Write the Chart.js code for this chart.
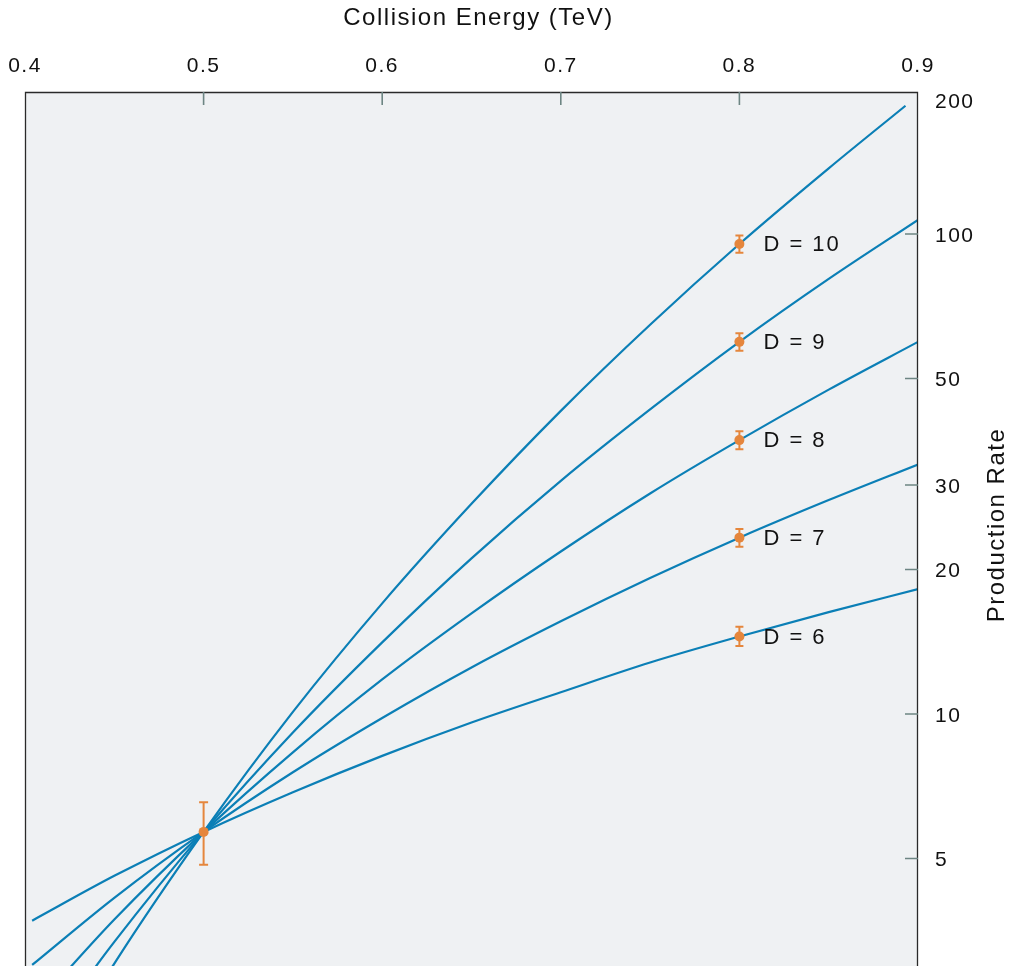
<!DOCTYPE html>
<html>
<head>
<meta charset="utf-8">
<script src="https://cdn.jsdelivr.net/npm/chart.js@4.4.1/dist/chart.umd.min.js"></script>
<style>
  html, body { margin: 0; padding: 0; background: #fff; }
  canvas { display: block; }
</style>
</head>
<body>
<canvas id="chart" width="1013" height="966"></canvas>
<script>
// Collision energy samples (TeV)
const energy    = [0.404, 0.45, 0.5, 0.55, 0.6, 0.65, 0.7, 0.75, 0.8, 0.85, 0.9];
const energyD10 = [0.404, 0.45, 0.5, 0.55, 0.6, 0.65, 0.7, 0.75, 0.8, 0.85, 0.893];

// Production rate per curve
const rateD6  = [3.71, 4.60, 5.68, 6.87, 8.18, 9.60, 11.1, 12.8, 14.5, 16.3, 18.2];
const rateD7  = [3.00, 4.14, 5.68, 7.56, 9.81, 12.5, 15.6, 19.2, 23.3, 27.9, 33.1];
const rateD8  = [2.42, 3.73, 5.68, 8.32, 11.8, 16.2, 21.8, 28.8, 37.2, 47.4, 59.6];
const rateD9  = [1.96, 3.35, 5.68, 9.15, 14.1, 21.1, 30.6, 43.1, 59.6, 80.6, 107];
const rateD10 = [1.58, 3.02, 5.68, 10.1, 17.0, 27.4, 42.8, 64.7, 95.3, 137, 185];

// Measured points with error bars
const pointEnergy = [0.5, 0.8, 0.8, 0.8, 0.8, 0.8];
const pointRate   = [5.68, 95.3, 59.6, 37.2, 23.3, 14.5];
const pointLow    = [4.85, 91.4, 57.1, 35.6, 22.3, 13.85];
const pointHigh   = [6.55, 99.3, 62.1, 38.8, 24.3, 15.2];
const pointLabel  = ['', 'D = 10', 'D = 9', 'D = 8', 'D = 7', 'D = 6'];

// Axis ticks
const yTickValues = [5, 10, 20, 30, 50, 100, 200];

const FONT = '"Liberation Sans", Arial, Helvetica, sans-serif';
const C = { line:'#0b7fb6', point:'#e5863c', tick:'#6d8583', frame:'#2a2a2a', bg:'#eff1f3', text:'#111' };

const xy = (xs, ys) => xs.map((x, i) => ({ x, y: ys[i] }));
const curve = (xs, ys) => ({
  type:'line', data:xy(xs, ys), borderColor:C.line, borderWidth:2.2,
  pointRadius:0, fill:false, cubicInterpolationMode:'monotone', order:1
});

const framePlugin = {
  id:'frame',
  beforeDraw(chart) {
    const { ctx, chartArea:a } = chart;
    ctx.save();
    ctx.fillStyle = C.bg;
    ctx.fillRect(a.left, a.top, a.right - a.left, a.bottom - a.top);
    ctx.restore();
    ctx.letterSpacing = '1.5px';
  },
  afterDatasetsDraw(chart) {
    const { ctx, scales:{ x, y } } = chart;
    ctx.save();
    ctx.strokeStyle = C.point;
    ctx.lineWidth = 2;
    pointEnergy.forEach((e, i) => {
      const px = x.getPixelForValue(e);
      const y1 = y.getPixelForValue(pointLow[i]);
      const y2 = y.getPixelForValue(pointHigh[i]);
      const w = i === 0 ? 4.5 : 4;
      ctx.beginPath();
      ctx.moveTo(px, y1); ctx.lineTo(px, y2);
      ctx.moveTo(px - w, y1); ctx.lineTo(px + w, y1);
      ctx.moveTo(px - w, y2); ctx.lineTo(px + w, y2);
      ctx.stroke();
    });
    ctx.restore();
  },
  afterDraw(chart) {
    const { ctx, chartArea:a, scales:{ x, y } } = chart;
    ctx.save();
    // frame (left, top, right)
    ctx.strokeStyle = C.frame;
    ctx.lineWidth = 1.3;
    ctx.beginPath();
    ctx.moveTo(a.left + 0.5, a.bottom); ctx.lineTo(a.left + 0.5, a.top + 0.5);
    ctx.lineTo(a.right - 0.5, a.top + 0.5); ctx.lineTo(a.right - 0.5, a.bottom);
    ctx.stroke();

    // inward tick marks
    ctx.strokeStyle = C.tick;
    ctx.lineWidth = 1.6;
    ctx.beginPath();
    x.ticks.forEach(t => {
      const px = x.getPixelForValue(t.value);
      if (px > a.left + 2 && px < a.right - 2) { ctx.moveTo(px, a.top); ctx.lineTo(px, a.top + 13); }
    });
    yTickValues.forEach(v => {
      const py = y.getPixelForValue(v);
      if (py > a.top + 2 && py < a.bottom) { ctx.moveTo(a.right - 13, py); ctx.lineTo(a.right, py); }
    });
    ctx.stroke();

    // y tick labels
    ctx.fillStyle = C.text;
    ctx.font = `21px ${FONT}`;
    ctx.letterSpacing = '1.5px';
    ctx.textAlign = 'left';
    ctx.textBaseline = 'middle';
    yTickValues.forEach(v => {
      const py = Math.max(y.getPixelForValue(v) + 2, a.top + 10);
      ctx.fillText(String(v), a.right + 17, py);
    });

    // axis titles
    ctx.font = `24px ${FONT}`;
    ctx.textAlign = 'center';
    ctx.fillText('Collision Energy (TeV)', (a.left + a.right) / 2 + 7, 18);
    ctx.translate(997, (a.top + a.bottom) / 2 - 4);
    ctx.rotate(-Math.PI / 2);
    ctx.fillText('Production Rate', 0, 0);
    ctx.setTransform(1, 0, 0, 1, 0, 0);

    // curve labels
    ctx.font = `22px ${FONT}`;
    ctx.letterSpacing = '2px';
    ctx.textAlign = 'left';
    pointLabel.forEach((lab, i) => {
      if (!lab) return;
      ctx.fillText(lab, x.getPixelForValue(pointEnergy[i]) + 24, y.getPixelForValue(pointRate[i]) + 1);
    });
    ctx.restore();
  }
};

new Chart(document.getElementById('chart').getContext('2d'), {
  type:'line',
  data:{
    datasets:[
      { type:'scatter', data:xy(pointEnergy, pointRate), backgroundColor:C.point, borderWidth:0, pointRadius:5, order:0 },
      curve(energy, rateD6),
      curve(energy, rateD7),
      curve(energy, rateD8),
      curve(energy, rateD9),
      curve(energyD10, rateD10)
    ]
  },
  options:{
    responsive:false,
    animation:false,
    layout:{ autoPadding:false, padding:{ left:25, right:0, top:0, bottom:0 } },
    plugins:{ legend:{ display:false }, tooltip:{ enabled:false } },
    scales:{
      x:{
        type:'linear', position:'top', min:0.4, max:0.9,
        grid:{ display:false, drawTicks:true, tickLength:13 }, border:{ display:false },
        ticks:{ stepSize:0.1, padding:0, color:C.text, font:{ family:FONT, size:21 }, callback:v => v.toFixed(1) },
        afterFit:s => { s.height = 92; s.paddingLeft = 0; s.paddingRight = 0; }
      },
      y:{
        type:'logarithmic', position:'right', min:2.985, max:197.6,
        grid:{ display:false, drawTicks:false }, border:{ display:false },
        ticks:{ display:false },
        afterFit:s => { s.width = 95; }
      }
    }
  },
  plugins:[framePlugin]
});
</script>
</body>
</html>
